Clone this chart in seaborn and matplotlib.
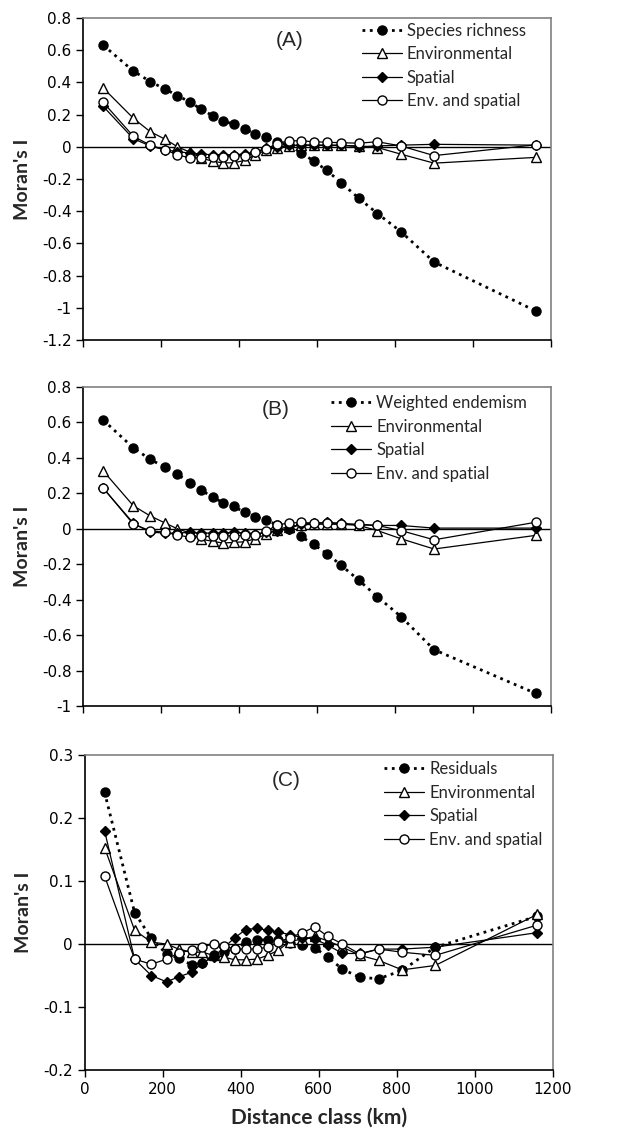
import matplotlib
matplotlib.use("Agg")
import matplotlib.pyplot as plt
import seaborn as sns

# distance classes (km), shared by all panels
distance = [51, 128, 171, 210, 241, 274, 302, 331, 358, 385, 413, 441,
            469, 496, 526, 558, 590, 624, 661, 706, 754, 814, 899, 1160]

# (A) species richness
richness = [0.63, 0.47, 0.405, 0.357, 0.318, 0.276, 0.233, 0.193, 0.162, 0.139, 0.11, 0.08,
            0.06, 0.03, 0.01, -0.037, -0.088, -0.147, -0.224, -0.32, -0.415, -0.527, -0.716, -1.02]
a_env = [0.364, 0.177, 0.094, 0.046, 0.0, -0.035, -0.07, -0.09, -0.1, -0.1, -0.085, -0.05,
         -0.02, -0.005, 0.005, 0.01, 0.01, 0.008, 0.008, 0.005, -0.005, -0.046, -0.102, -0.066]
a_spa = [0.25, 0.05, 0.005, -0.02, -0.03, -0.04, -0.045, -0.05, -0.05, -0.05, -0.045, -0.03,
         -0.01, 0.0, 0.008, 0.01, 0.01, 0.01, 0.01, 0.0, 0.005, 0.01, 0.015, 0.01]
a_both = [0.275, 0.065, 0.01, -0.02, -0.05, -0.07, -0.07, -0.065, -0.065, -0.06, -0.055, -0.035,
          -0.015, 0.02, 0.037, 0.037, 0.031, 0.028, 0.025, 0.022, 0.031, 0.005, -0.055, 0.012]

# (B) weighted endemism
endemism = [0.613, 0.457, 0.392, 0.347, 0.307, 0.26, 0.219, 0.178, 0.148, 0.126, 0.094, 0.069,
            0.047, 0.024, 0.0, -0.043, -0.088, -0.14, -0.206, -0.29, -0.384, -0.495, -0.682, -0.929]
b_env = [0.326, 0.13, 0.073, 0.032, 0.0, -0.024, -0.058, -0.071, -0.08, -0.077, -0.073, -0.056,
         -0.03, -0.006, 0.013, 0.022, 0.026, 0.026, 0.026, 0.019, -0.01, -0.056, -0.114, -0.037]
b_spa = [0.228, 0.032, -0.019, -0.024, -0.024, -0.02, -0.024, -0.024, -0.024, -0.02, -0.024, -0.03,
         -0.02, -0.015, 0.0, 0.026, 0.032, 0.036, 0.032, 0.022, 0.019, 0.019, 0.004, 0.004]
b_both = [0.23, 0.026, -0.011, -0.02, -0.034, -0.049, -0.043, -0.043, -0.04, -0.04, -0.037, -0.034,
          -0.015, 0.022, 0.032, 0.036, 0.032, 0.032, 0.026, 0.026, 0.019, -0.01, -0.062, 0.037]

# (C) residuals
residuals = [0.241, 0.05, 0.009, -0.016, -0.022, -0.033, -0.03, -0.018, -0.012, -0.008, 0.003, 0.006,
             0.007, 0.006, 0.002, -0.001, -0.006, -0.021, -0.04, -0.053, -0.055, -0.042, -0.005, 0.044]
c_env = [0.153, 0.022, 0.003, 0.0, -0.008, -0.013, -0.013, -0.018, -0.021, -0.025, -0.025, -0.024,
         -0.018, -0.01, 0.004, 0.008, 0.012, 0.005, -0.005, -0.018, -0.026, -0.041, -0.034, 0.047]
c_spa = [0.18, -0.024, -0.05, -0.06, -0.052, -0.045, -0.03, -0.02, -0.005, 0.01, 0.023, 0.025,
         0.022, 0.019, 0.015, 0.01, 0.008, -0.002, -0.015, -0.015, -0.008, -0.008, -0.005, 0.018]
c_both = [0.108, -0.024, -0.032, -0.024, -0.014, -0.01, -0.004, 0.0, -0.003, -0.008, -0.008, -0.008,
          -0.005, 0.003, 0.01, 0.018, 0.027, 0.012, 0.0, -0.016, -0.008, -0.013, -0.018, 0.03]

sns.set_style("ticks")
plt.rcParams["font.family"] = ["DejaVu Sans"]
plt.rcParams["axes.unicode_minus"] = False

styles = [
    dict(marker="o", linestyle=":", linewidth=2.0, markersize=6.5, markerfacecolor="black"),
    dict(marker="^", linestyle="-", linewidth=0.9, markersize=6.5, markerfacecolor="white"),
    dict(marker="D", linestyle="-", linewidth=0.9, markersize=5.5, markerfacecolor="black"),
    dict(marker="o", linestyle="-", linewidth=0.9, markersize=6.5, markerfacecolor="white"),
]

panels = [
    dict(pos=[0.135, 0.7002, 0.7573, 0.2840], tag="(A)", tag_xy=(0.44, 0.93),
         ylim=(-1.2, 0.8), yticks=[0.8, 0.6, 0.4, 0.2, 0, -0.2, -0.4, -0.6, -0.8, -1, -1.2],
         series=[("Species richness", richness), ("Environmental", a_env),
                 ("Spatial", a_spa), ("Env. and spatial", a_both)],
         leg=(0.595, 0.985)),
    dict(pos=[0.135, 0.3774, 0.7573, 0.2813], tag="(B)", tag_xy=(0.41, 0.93),
         ylim=(-1.0, 0.8), yticks=[0.8, 0.6, 0.4, 0.2, 0, -0.2, -0.4, -0.6, -0.8, -1],
         series=[("Weighted endemism", endemism), ("Environmental", b_env),
                 ("Spatial", b_spa), ("Env. and spatial", b_both)],
         leg=(0.53, 0.975)),
    dict(pos=[0.137, 0.0564, 0.7573, 0.2778], tag="(C)", tag_xy=(0.43, 0.92),
         ylim=(-0.2, 0.3), yticks=[0.3, 0.2, 0.1, 0, -0.1, -0.2],
         series=[("Residuals", residuals), ("Environmental", c_env),
                 ("Spatial", c_spa), ("Env. and spatial", c_both)],
         leg=(0.64, 0.98)),
]

fig = plt.figure(figsize=(6.18, 11.34), dpi=100)

for i, p in enumerate(panels):
    ax = fig.add_axes(p["pos"])
    ax.axhline(0, color="black", linewidth=1.0, zorder=1)
    for (name, vals), st in zip(p["series"], styles):
        sns.lineplot(x=distance, y=vals, ax=ax, color="black", label=name,
                     markeredgecolor="black", markeredgewidth=1.0,
                     errorbar=None, sort=False, zorder=3, **st)
    ax.set_xlim(0, 1200)
    ax.set_ylim(*p["ylim"])
    ax.set_xticks(range(0, 1201, 200))
    ax.set_yticks(p["yticks"])
    ax.set_yticklabels(["%g" % t for t in p["yticks"]])
    ax.tick_params(axis="both", direction="out", length=5, width=1, labelsize=11, colors="black")
    if i < 2:
        ax.tick_params(axis="x", labelbottom=False)
    else:
        ax.set_xlabel("Distance class (km)", family="Lato", weight="bold", fontsize=15, labelpad=8)
    ax.set_ylabel("Moran's I", family="Lato", weight="bold", fontsize=14, labelpad=8)
    for side in ["left", "bottom"]:
        ax.spines[side].set_color("black")
        ax.spines[side].set_linewidth(1.2)
    for side in ["top", "right"]:
        ax.spines[side].set_visible(True)
        ax.spines[side].set_color("#808080")
        ax.spines[side].set_linewidth(1.2)
    ax.text(p["tag_xy"][0], p["tag_xy"][1], p["tag"], transform=ax.transAxes,
            ha="center", va="center", fontsize=15, family=["Liberation Sans", "DejaVu Sans"])
    ax.legend(loc="upper left", bbox_to_anchor=p["leg"], frameon=False,
              prop={"family": "Lato", "size": 12}, borderpad=0, borderaxespad=0,
              handlelength=2.4, handletextpad=0.3, labelspacing=0.45)

fig.savefig("out.png", dpi=100)
